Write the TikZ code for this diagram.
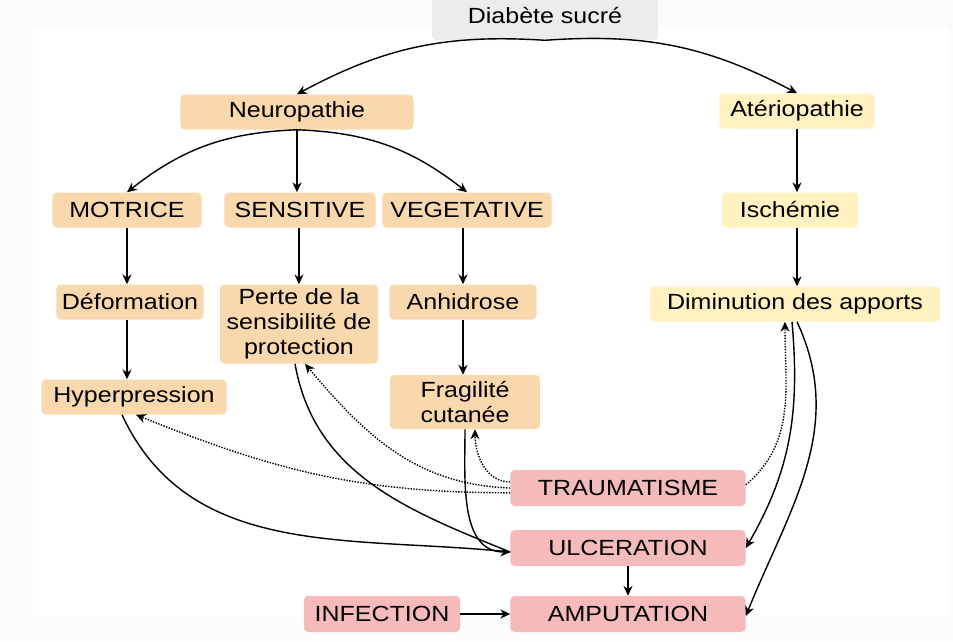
\documentclass[tikz,border=0pt]{standalone}
\usepackage{fontspec}
\setmainfont[FakeStretch=1.14]{Liberation Sans}
\definecolor{PeachBox}{RGB}{249,216,174}
\definecolor{YellowBox}{RGB}{255,241,192}
\definecolor{PinkBox}{RGB}{245,186,186}
\definecolor{GreyBox}{RGB}{236,236,236}
\usetikzlibrary{arrows.meta}

\begin{document}
\begin{tikzpicture}[
      x=0.025cm, y=-0.025cm,
      every node/.style={font=\fontsize{15.6}{18}\selectfont},
      box/.style={rectangle, rounded corners=3pt, inner sep=0pt,
                  minimum height=0.875cm, align=center},
      neuro/.style={box, fill=PeachBox},
      vasc/.style={box, fill=YellowBox},
      lesion/.style={box, fill=PinkBox},
      arr/.style={-{Stealth[length=7pt, width=6.5pt]}, line width=1pt},
      dotarr/.style={arr, densely dotted}
    ]
      \useasboundingbox (0,0) rectangle (953,641);
      % page and panel
      \fill[gray!3] (0,0) rectangle (953,641);
      \fill[white] (33,28) rectangle (948,616);

      \node[box, fill=GreyBox, minimum width=5.65cm, minimum height=1.2cm] (diab) at (545,16) {\raisebox{-3pt}{Diabète sucré}};

      \node[neuro, minimum width=5.825cm] (neu) at (297,112) {Neuropathie};
      \node[vasc, minimum width=3.875cm] (ate) at (797,111) {Atériopathie};

      \node[neuro, minimum width=3.725cm] (mot) at (127,210) {MOTRICE};
      \node[neuro, minimum width=3.775cm] (sen) at (300,210) {SENSITIVE};
      \node[neuro, minimum width=4.225cm] (veg) at (467,210) {VEGETATIVE};
      \node[vasc, minimum width=3.4cm] (isc) at (790,210) {Ischémie};

      \node[neuro, minimum width=3.675cm] (def) at (130,302) {Déformation};
      \node[neuro, minimum width=3.95cm, minimum height=1.975cm] (per) at (299,324) {Perte de la\\sensibilité de\\protection};
      \node[neuro, minimum width=3.675cm] (anh) at (463,302) {Anhidrose};
      \node[vasc, minimum width=7.25cm] (dim) at (795,304) {Diminution des apports};

      \node[neuro, minimum width=4.625cm] (hyp) at (134,397) {Hyperpression};
      \node[neuro, minimum width=3.75cm, minimum height=1.35cm] (fra) at (465,402) {Fragilité\\cutanée};

      \node[lesion, minimum width=5.875cm, minimum height=0.9cm] (tra) at (628,488) {TRAUMATISME};
      \node[lesion, minimum width=5.875cm, minimum height=0.9cm] (ulc) at (628,548) {ULCERATION};
      \node[lesion, minimum width=5.875cm, minimum height=0.9cm] (amp) at (628,614) {AMPUTATION};
      \node[lesion, minimum width=3.9cm, minimum height=0.9cm] (inf) at (382,614) {INFECTION};

      % top branches
      \draw[arr] (diab.south) to[bend right=16] (neu.north);
      \draw[arr] (diab.south) to[bend left=16] (ate.north);
      \draw[arr] (neu.south) to[bend right=18] (mot.north);
      \draw[arr] (neu.south) -- (neu.south |- sen.north);
      \draw[arr] (neu.south) to[bend left=18] (veg.north);

      % columns
      \draw[arr] (mot.south) -- (mot.south |- def.north);
      \draw[arr] (mot.south |- def.south) -- (mot.south |- hyp.north);
      \draw[arr] (per.north |- sen.south) -- (per.north);
      \draw[arr] (anh.north |- veg.south) -- (anh.north);
      \draw[arr] (anh.south) -- (anh.south |- fra.north);
      \draw[arr] (ate.south) -- (ate.south |- isc.north);
      \draw[arr] (ate.south |- isc.south) -- (ate.south |- dim.north);

      % towards ulceration
      \coordinate (uin) at ([yshift=-0.1cm]ulc.west);
      \draw[line width=1pt] ([xshift=-0.3cm]hyp.south) to[out=-65, in=174] (uin);
      \draw[line width=1pt] ([xshift=-0.1cm]per.south) to[out=-80, in=158] (uin);
      \draw[arr] (fra.south) to[out=-90, in=180] (uin);
      \draw[arr] ([xshift=-0.075cm]dim.south) to[out=-85, in=60] (ulc.east);
      \draw[arr] ([xshift=0.05cm]dim.south) to[out=-65, in=68] ([yshift=-0.05cm]amp.east);
      \draw[arr] (ulc.south) -- (amp.north);
      \draw[arr] (inf.east) -- (amp.west);

      % trauma
      \draw[dotarr] ([yshift=0.15cm]tra.west) to[out=180, in=-90] ([xshift=0.25cm]fra.south);
      \draw[dotarr] (tra.west) to[out=178, in=-50] ([xshift=0.15cm]per.south);
      \draw[dotarr] ([yshift=-0.12cm]tra.west) to[out=180, in=-22] ([xshift=0.05cm]hyp.south);
      \draw[dotarr] ([yshift=0.08cm]tra.east) to[out=40, in=-90] ([xshift=-0.25cm]dim.south);
    \end{tikzpicture}
\end{document}
